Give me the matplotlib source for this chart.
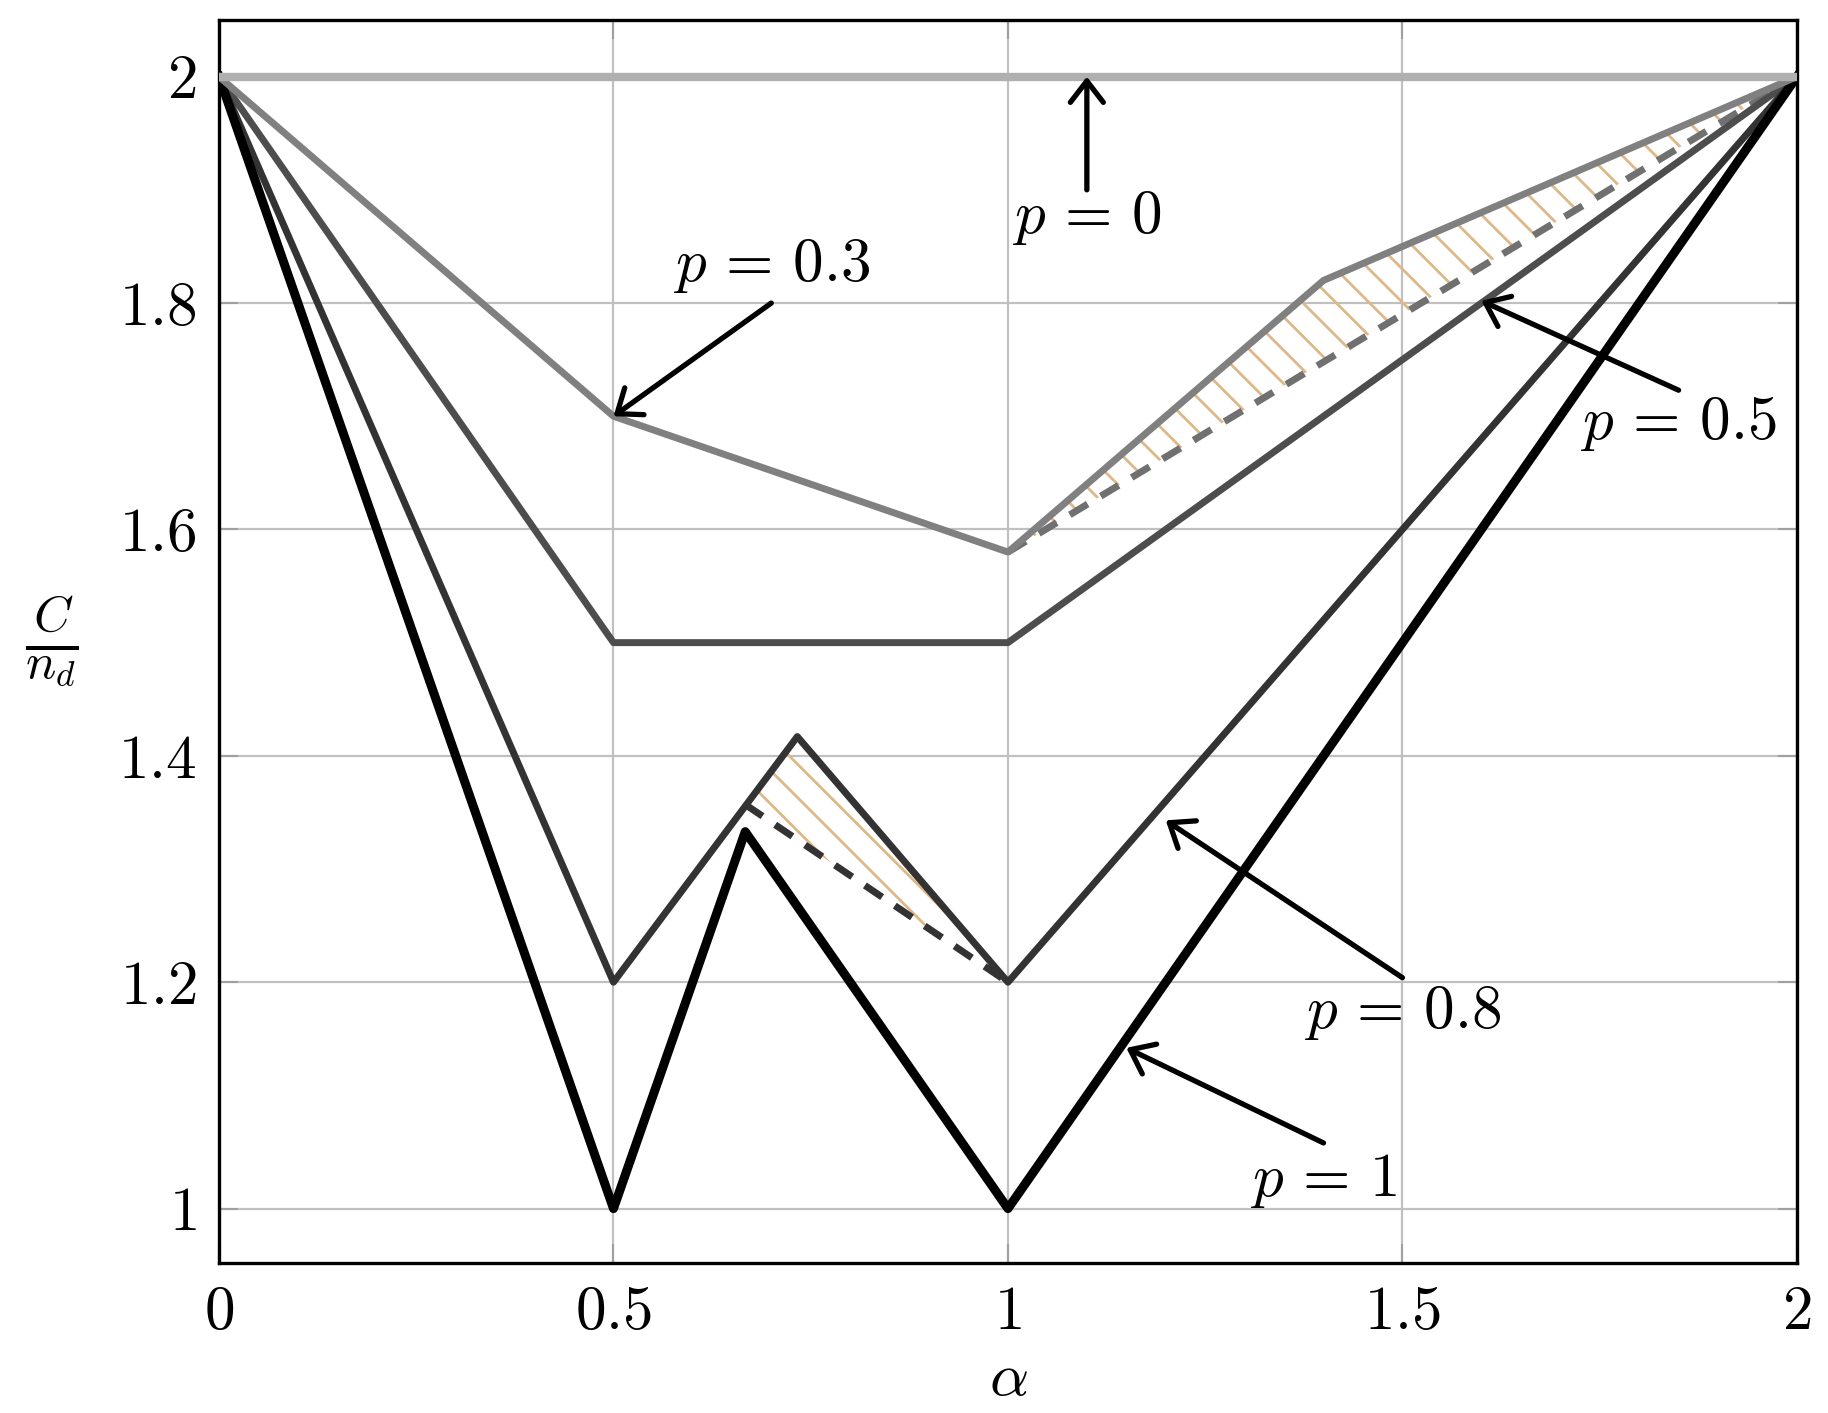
import numpy as np
import matplotlib
matplotlib.use("Agg")
import matplotlib.pyplot as plt

plt.rcParams['mathtext.fontset'] = 'cm'
plt.rcParams['font.family'] = 'serif'
plt.rcParams['font.serif'] = ['cmr10', 'DejaVu Serif']
plt.rcParams['hatch.linewidth'] = 2.0

# curves C/n_d vs alpha for several p
alpha_p0 = [0, 2]
c_p0 = [2, 2]
alpha_p03 = [0, 0.5, 1, 1.4, 2]
c_p03 = [2, 1.7, 1.58, 1.82, 2]
alpha_p05 = [0, 0.5, 1, 2]
c_p05 = [2, 1.5, 1.5, 2]
alpha_p08 = [0, 0.5, 0.733, 1, 2]
c_p08 = [2, 1.2, 1.417, 1.2, 2]
alpha_p1 = [0, 0.5, 0.667, 1, 2]
c_p1 = [2, 1, 1.333, 1, 2]

# dashed bounds and hatched gaps
alpha_dash03 = [1.0, 2.0]
c_dash03 = [1.58, 2.0]
alpha_dash08 = [0.667, 1.0]
c_dash08 = [1.357, 1.2]
alpha_gap03 = [1.0, 1.4, 2.0]
c_gap03 = [1.58, 1.82, 2.0]
alpha_gap08 = [0.667, 0.733, 1.0]
c_gap08 = [1.357, 1.417, 1.2]

xticks = [0, 0.5, 1, 1.5, 2]
xtick_labels = ['$0$', '$0.5$', '$1$', '$1.5$', '$2$']
yticks = [1, 1.2, 1.4, 1.6, 1.8, 2]
ytick_labels = ['$1$', '$1.2$', '$1.4$', '$1.6$', '$1.8$', '$2$']

# labels: text, text position, arrow tail, arrow tip
labels = [r'$p\,=\,0$', r'$p\,=\,0.3$', r'$p\,=\,0.5$', r'$p\,=\,0.8$', r'$p\,=\,1$']
label_pos = [(1.10, 1.875), (0.70, 1.833), (1.85, 1.694), (1.50, 1.173), (1.40, 1.024)]
arrow_tail = [(1.10, 1.90), (0.70, 1.80), (1.85, 1.723), (1.50, 1.204), (1.40, 1.058)]
arrow_tip = [(1.10, 2.0), (0.50, 1.70), (1.60, 1.802), (1.20, 1.343), (1.15, 1.142)]

fs = 44

fig = plt.figure(figsize=(18.28, 14.13), dpi=100)
ax = fig.add_axes([0.1198, 0.1062, 0.983 - 0.1198, 0.9858 - 0.1062])

tan = '#deb887'
ax.fill(alpha_gap03, c_gap03, facecolor='none', edgecolor=tan, hatch='\\', linewidth=0, zorder=2)
ax.fill(alpha_gap08, c_gap08, facecolor='none', edgecolor=tan, hatch='\\', linewidth=0, zorder=2)

ax.plot(alpha_dash03, c_dash03, color='#707070', lw=5, dashes=(3, 2.2), zorder=3)
ax.plot(alpha_dash08, c_dash08, color='#333333', lw=5, dashes=(3, 2.2), zorder=3)

ax.plot(alpha_p05, c_p05, color='#4d4d4d', lw=5, zorder=4)
ax.plot(alpha_p08, c_p08, color='#333333', lw=5, zorder=4)
ax.plot(alpha_p1, c_p1, color='black', lw=6.5, zorder=4)
ax.plot(alpha_p03, c_p03, color='#808080', lw=5, zorder=5)
ax.plot(alpha_p0, c_p0, color='#b0b0b0', lw=6, zorder=5)

for lab, pos, tail, tip in zip(labels, label_pos, arrow_tail, arrow_tip):
    ax.annotate('', xy=tip, xytext=tail, zorder=6,
                arrowprops=dict(arrowstyle='->,head_length=0.35,head_width=0.27',
                                color='black', lw=3.8, shrinkA=0, shrinkB=0),
                fontsize=fs)
    ax.text(pos[0], pos[1], lab, fontsize=fs, ha='center', va='center', zorder=6)

ax.set_xlim(0, 2)
ax.set_ylim(0.952, 2.05)
ax.set_xticks(xticks, labels=xtick_labels)
ax.set_yticks(yticks, labels=ytick_labels)
ax.tick_params(direction='in', top=True, right=True, length=14, width=1.5,
               color='#a0a0a0', labelsize=fs, pad=16)
ax.grid(True, color='#c0c0c0', lw=1.6, zorder=0)
ax.set_axisbelow(True)
for s in ax.spines.values():
    s.set_linewidth(2.4)

ax.set_xlabel(r'$\alpha$', fontsize=fs, labelpad=8)
ax.set_ylabel(r'$\frac{C}{n_d}$', fontsize=fs + 8, rotation=0, labelpad=48, va='center')

fig.savefig('out.png', dpi=100)
